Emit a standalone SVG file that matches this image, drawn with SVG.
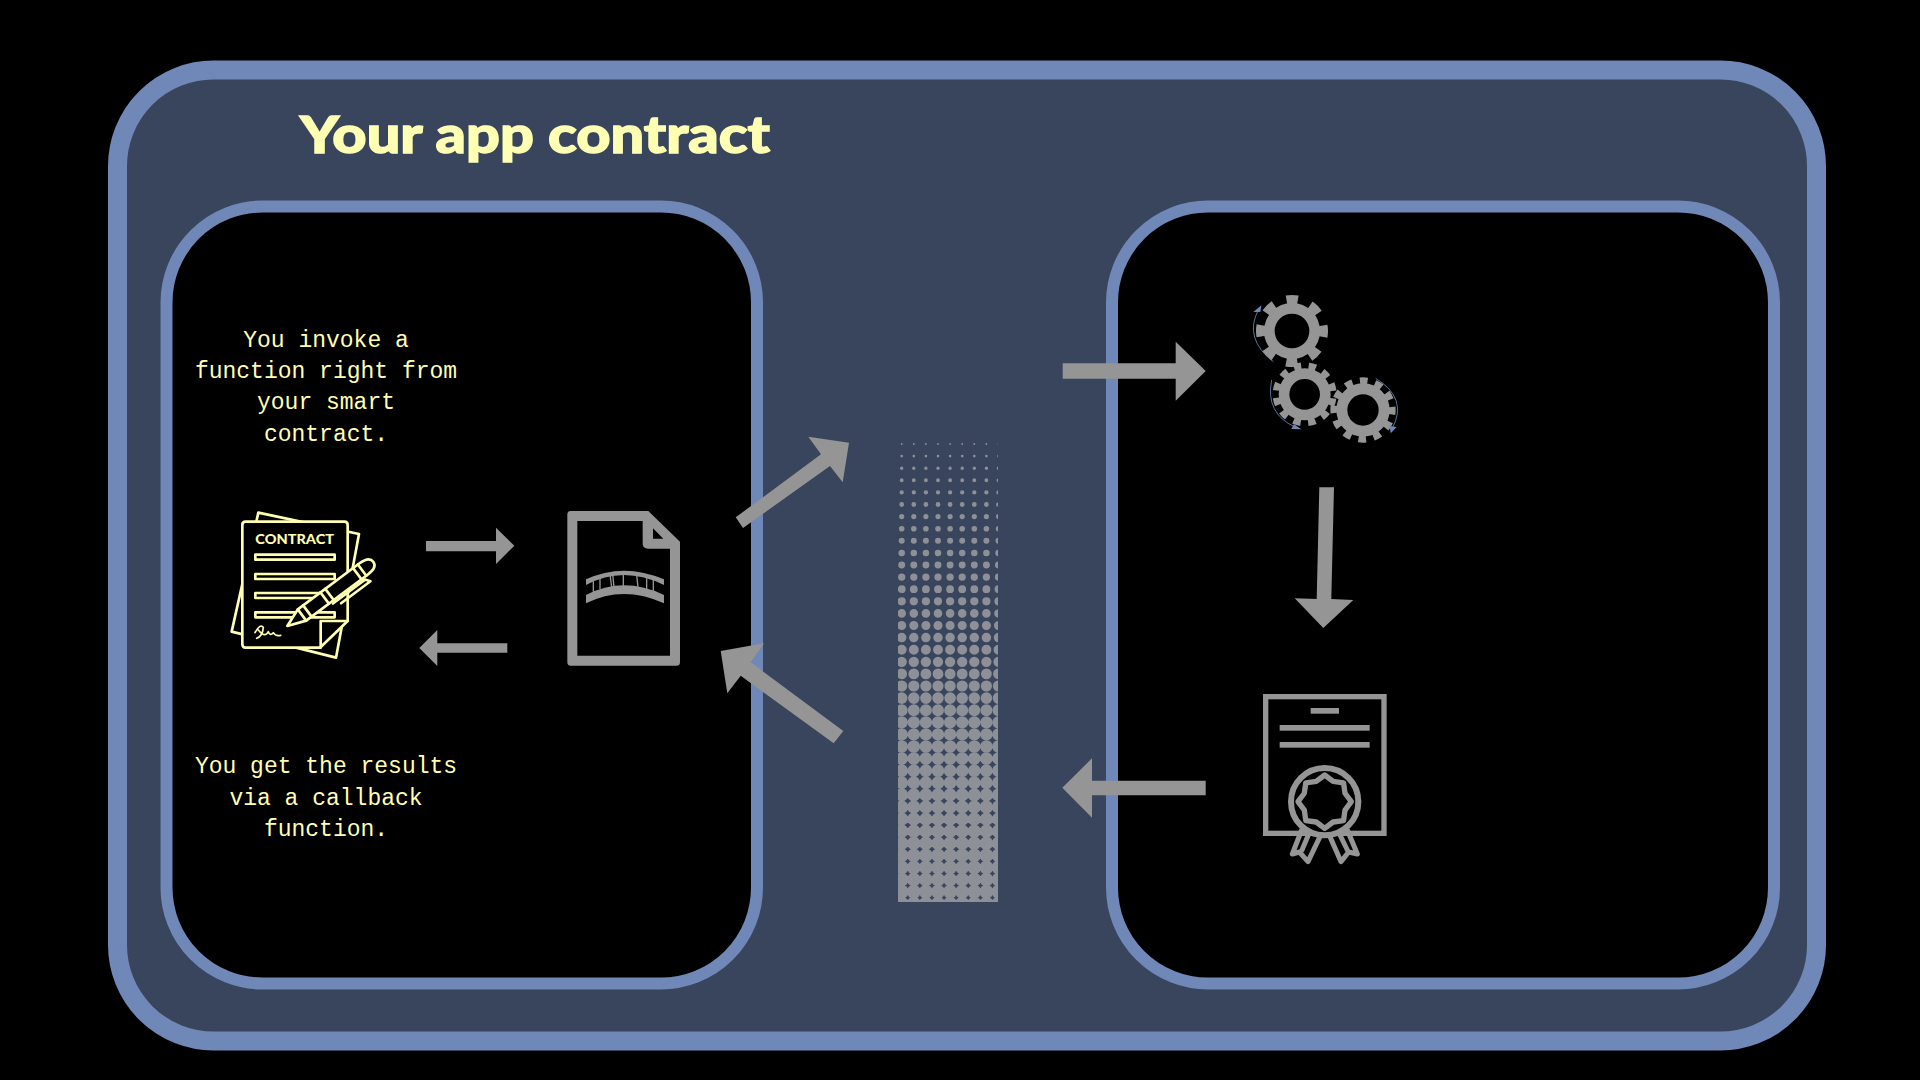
<svg xmlns="http://www.w3.org/2000/svg" width="1920" height="1080" viewBox="0 0 1920 1080">
<style>
.panel{fill:#000;stroke:#6f88b8;stroke-width:12}
.arrow{fill:#959595}
.body{font-family:"Liberation Mono",monospace;font-size:23px;fill:#ffffb3;text-anchor:middle}
.y{fill:none;stroke:#ffffb3;stroke-width:8;stroke-linejoin:round;stroke-linecap:round}
.yb{fill:#000;stroke:#ffffb3;stroke-width:8;stroke-linejoin:round;stroke-linecap:round}
.g{fill:none;stroke:#959595;stroke-linejoin:round;stroke-linecap:round}
.spin{fill:none;stroke:#6f88b8;stroke-width:2.5}
.tip{fill:#6f88b8}
</style>
<defs>
<clipPath id="fade"><rect x="898" y="442" width="100" height="460"/></clipPath>
</defs>
<rect width="1920" height="1080" fill="#000"/>
<g id="outer-frame">
<rect x="117.500" y="70" width="1699" height="971" rx="96" fill="#39455c" stroke="#6f88b8" stroke-width="19"/>
<text x="300" y="153" font-family="Lato,sans-serif" font-weight="900" font-size="52" fill="#ffffb3" stroke="#ffffb3" stroke-width="1.400" textLength="470" lengthAdjust="spacingAndGlyphs">Your app contract</text>
</g>
<g id="left-panel">
<rect class="panel" x="166.500" y="206.500" width="590.500" height="777" rx="96"/>
<text class="body" x="326" y="347">You invoke a</text>
<text class="body" x="326" y="378">function right from</text>
<text class="body" x="326" y="409">your smart</text>
<text class="body" x="326" y="441">contract.</text>
<text class="body" x="326" y="773">You get the results</text>
<text class="body" x="326" y="805">via a callback</text>
<text class="body" x="326" y="836">function.</text>
</g>
<g id="right-panel">
<rect class="panel" x="1112" y="206.500" width="662" height="777" rx="96"/>
</g>
<g id="contract-icon" transform="translate(210 490) scale(.33333)">
<path class="yb" d="M145 68L447 132L378 503L65 425Z"/>
<path class="yb" d="M107 95H403Q413 95 413 105V393L330 473H107Q97 473 97 463V105Q97 95 107 95Z"/>
<path class="y" d="M413 393H332V473"/>
<text x="136" y="163" font-family="Lato,sans-serif" font-weight="900" font-size="42" fill="#ffffb3" textLength="236" lengthAdjust="spacingAndGlyphs">CONTRACT</text>
<rect class="y" x="136" y="194" width="238" height="15"/>
<rect class="y" x="136" y="252" width="238" height="15"/>
<rect class="y" x="136" y="309" width="238" height="15"/>
<rect class="y" x="136" y="367" width="238" height="15"/>
<path class="y" style="stroke-width:5" d="M135 428Q150 400 160 412Q158 438 140 445M145 420Q165 445 175 425Q180 440 190 428Q197 440 212 436"/>
<g transform="translate(232 408) rotate(-36.8)">
<path class="y" d="M150 28H270L280 42H170"/>
<path class="yb" d="M0 0L55 -21H285Q322 -21 322 0Q322 21 285 21H55Z"/>
<path class="y" d="M55 -21V21M75 -21V21M140 -21V21M158 -21V21M262 -21V21M280 -21V21"/>
</g>
</g>
<g id="document-icon" transform="translate(210 490) scale(.33333)">
<path class="arrow" fill-rule="evenodd" d="M1082 63H1315L1410 155V517Q1410 527 1400 527H1082Q1072 527 1072 517V73Q1072 63 1082 63ZM1102 93V497H1380V176H1314Q1298 176 1298 160V93ZM1329 115V146H1360Z"/>
<path class="arrow" d="M1128 268Q1240 216 1362 268V285Q1240 225 1128 285ZM1128 315Q1240 257 1362 315V340Q1240 284 1128 340Z"/>
<path fill="none" stroke="#959595" stroke-width="4" d="M1150 270V305M1170 262V298M1200 252L1205 292M1208 252L1212 292M1240 250V290M1280 254L1284 292M1310 260V300M1330 266V306"/>
</g>
<g id="halftone" clip-path="url(#fade)" fill="none" stroke="#8e9097" stroke-linecap="round" stroke-dasharray="0 12.1">
<line x1="889.6" x2="1010" y1="444" y2="444" stroke-width="1.8"/>
<line x1="889.6" x2="1010" y1="456.1" y2="456.1" stroke-width="2.7"/>
<line x1="889.6" x2="1010" y1="468.2" y2="468.2" stroke-width="3.4"/>
<line x1="889.6" x2="1010" y1="480.3" y2="480.3" stroke-width="3.9"/>
<line x1="889.6" x2="1010" y1="492.4" y2="492.4" stroke-width="4.3"/>
<line x1="889.6" x2="1010" y1="504.5" y2="504.5" stroke-width="4.8"/>
<line x1="889.6" x2="1010" y1="516.6" y2="516.6" stroke-width="5.2"/>
<line x1="889.6" x2="1010" y1="528.7" y2="528.7" stroke-width="5.6"/>
<line x1="889.6" x2="1010" y1="540.8" y2="540.8" stroke-width="6"/>
<line x1="889.6" x2="1010" y1="552.9" y2="552.9" stroke-width="6.5"/>
<line x1="889.6" x2="1010" y1="565" y2="565" stroke-width="6.9"/>
<line x1="889.6" x2="1010" y1="577.1" y2="577.1" stroke-width="7.3"/>
<line x1="889.6" x2="1010" y1="589.2" y2="589.2" stroke-width="7.8"/>
<line x1="889.6" x2="1010" y1="601.3" y2="601.3" stroke-width="8.2"/>
<line x1="889.6" x2="1010" y1="613.4" y2="613.4" stroke-width="8.6"/>
<line x1="889.6" x2="1010" y1="625.5" y2="625.5" stroke-width="9.1"/>
<line x1="889.6" x2="1010" y1="637.6" y2="637.6" stroke-width="9.5"/>
<line x1="889.6" x2="1010" y1="649.7" y2="649.7" stroke-width="9.9"/>
<line x1="889.6" x2="1010" y1="661.8" y2="661.8" stroke-width="10.3"/>
<line x1="889.6" x2="1010" y1="673.9" y2="673.9" stroke-width="10.8"/>
<line x1="889.6" x2="1010" y1="686" y2="686" stroke-width="11.2"/>
<line x1="889.6" x2="1010" y1="698.1" y2="698.1" stroke-width="11.6"/>
<line x1="889.6" x2="1010" y1="710.2" y2="710.2" stroke-width="12"/>
<line x1="889.6" x2="1010" y1="722.3" y2="722.3" stroke-width="12.3"/>
<line x1="889.6" x2="1010" y1="734.4" y2="734.4" stroke-width="12.4"/>
<line x1="889.6" x2="1010" y1="746.5" y2="746.5" stroke-width="12.6"/>
<line x1="889.6" x2="1010" y1="758.6" y2="758.6" stroke-width="12.7"/>
<line x1="889.6" x2="1010" y1="770.7" y2="770.7" stroke-width="12.8"/>
<line x1="889.6" x2="1010" y1="782.8" y2="782.8" stroke-width="12.9"/>
<line x1="889.6" x2="1010" y1="794.9" y2="794.9" stroke-width="13.1"/>
<line x1="889.6" x2="1010" y1="807" y2="807" stroke-width="13.2"/>
<line x1="889.6" x2="1010" y1="819.1" y2="819.1" stroke-width="13.3"/>
<line x1="889.6" x2="1010" y1="831.2" y2="831.2" stroke-width="13.4"/>
<line x1="889.6" x2="1010" y1="843.3" y2="843.3" stroke-width="13.6"/>
<line x1="889.6" x2="1010" y1="855.4" y2="855.4" stroke-width="13.7"/>
<line x1="889.6" x2="1010" y1="867.5" y2="867.5" stroke-width="13.8"/>
<line x1="889.6" x2="1010" y1="879.6" y2="879.6" stroke-width="13.9"/>
<line x1="889.6" x2="1010" y1="891.7" y2="891.7" stroke-width="14.1"/>
<line x1="889.6" x2="1010" y1="903.8" y2="903.8" stroke-width="14.2"/>
</g>
<g id="gears-icon" transform="translate(1230 280) scale(.33333)">
<g fill="none" stroke="#959595">
<circle cx="186" cy="153" r="68" stroke-width="32"/>
<circle cx="186" cy="153" r="94" stroke-width="28" pathLength="8" stroke-dasharray=".46 .54" transform="rotate(-10 186 153)"/>
<circle cx="224" cy="343" r="62" stroke-width="32"/>
<circle cx="224" cy="343" r="84" stroke-width="24" pathLength="12" stroke-dasharray=".5 .5" transform="rotate(8 224 343)"/>
<circle cx="399" cy="390" r="63.500" stroke-width="33"/>
<circle cx="399" cy="390" r="86" stroke-width="24" pathLength="12" stroke-dasharray=".5 .5" transform="rotate(-6 399 390)"/>
</g>
<path class="spin" d="M130 245Q40 175 85 90"/>
<path class="tip" d="M94 76L70 96L91 96Z"/>
<path class="spin" d="M125 300Q105 400 195 441"/>
<path class="tip" d="M214 448L184 447L192 433Z"/>
<path class="spin" d="M437 295Q535 355 487 445"/>
<path class="tip" d="M482 460L479 438L500 441Z"/>
</g>
<g id="certificate-icon" transform="translate(1240 680) scale(.33333)">
<rect class="g" x="77" y="50" width="355" height="410" stroke-width="16" style="stroke-linejoin:miter"/>
<rect class="arrow" x="212" y="84" width="85" height="17"/>
<rect class="arrow" x="119" y="135" width="270" height="17"/>
<rect class="arrow" x="119" y="186" width="270" height="17"/>
<path class="g" stroke-width="15" d="M185 450L157 522L178 516L204 545L240 470M205 465L186 510M322 450L352 522L326 516L303 545L270 470M300 465L322 510"/>
<circle cx="254" cy="365" r="101" fill="#000" stroke="#959595" stroke-width="18"/>
<path class="g" stroke-width="16" d="M254 285L279.300 304L310.600 308.400L315 339.700L334 365L315 390.300L310.600 421.600L279.300 426L254 445L228.700 426L197.400 421.600L193 390.300L174 365L193 339.700L197.400 308.400L228.700 304Z"/>
</g>
<g id="connectors">
<path class="arrow" d="M426 541H496V527.700L514.300 545.700L496 564V551.300H426Z"/>
<path class="arrow" d="M507.300 643.300H437.300V630L419.300 648L437.300 666V652.700H507.300Z"/>
<path class="arrow" d="M735.700 517.300L743 528L830 466L842.700 482.300L849 442.700L808.300 436.700L821 454.300Z"/>
<path class="arrow" d="M720.700 651L764 643.300L750.700 662.300L843.300 731L833.700 743.300L740.700 675.700L727.300 693.300Z"/>
<path class="arrow" d="M1062.700 363.300H1175.700V341.700L1205.700 371L1175.700 400.700V378.700H1062.700Z"/>
<path class="arrow" d="M1319.300 487.300H1334L1331.300 599L1353.300 600L1323.300 628L1294.700 598.300L1316.700 599Z"/>
<path class="arrow" d="M1062.300 787.700L1092 758.300V780.700H1205.700V795.300H1092V817.700Z"/>
</g>
</svg>
